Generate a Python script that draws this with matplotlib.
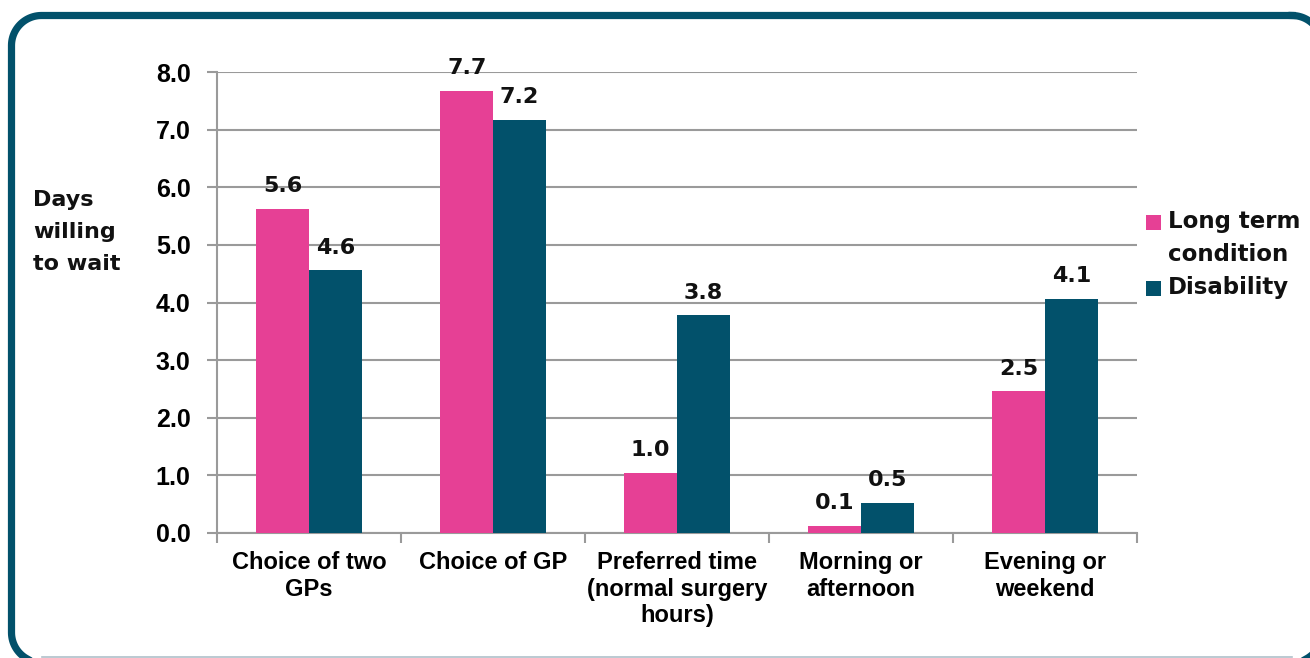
import matplotlib
matplotlib.use("Agg")
import matplotlib.pyplot as plt
import numpy as np
from matplotlib.patches import Rectangle

categories = ["Choice of two\nGPs", "Choice of GP", "Preferred time\n(normal surgery\nhours)",
              "Morning or\nafternoon", "Evening or\nweekend"]
long_term = [5.62, 7.67, 1.04, 0.12, 2.46]
disability = [4.56, 7.17, 3.78, 0.52, 4.06]
series_names = ["Long term\ncondition", "Disability"]
yticks = [0.0, 1.0, 2.0, 3.0, 4.0, 5.0, 6.0, 7.0, 8.0]

PINK = "#E64095"
TEAL = "#02516B"
GRID = "#9A9A9A"

W, H = 1310, 658
fig = plt.figure(figsize=(W / 100, H / 100), dpi=100)
fig.patch.set_facecolor("white")

# background axes in pixel coordinates (y downwards) for frame and legend
bg = fig.add_axes([0, 0, 1, 1], zorder=-5)
bg.set_xlim(0, W)
bg.set_ylim(H, 0)
bg.axis("off")


def rounded_rect(x0, y0, x1, y1, r, n=30):
    xs, ys = [], []
    corners = [(x1 - r, y0 + r, -90, 0), (x1 - r, y1 - r, 0, 90),
               (x0 + r, y1 - r, 90, 180), (x0 + r, y0 + r, 180, 270)]
    for cx, cy, a0, a1 in corners:
        a = np.radians(np.linspace(a0, a1, n))
        xs.extend(cx + r * np.cos(a))
        ys.extend(cy + r * np.sin(a))
    xs.append(xs[0])
    ys.append(ys[0])
    return xs, ys


fx, fy = rounded_rect(11.5, 15.5, 1322, 662.5, 30)
bg.plot(fx, fy, color=TEAL, linewidth=5.2, solid_joinstyle="round")
bg.plot([42, 1292], [656.8, 656.8], color="#AFC0CA", linewidth=1.2)

ax = fig.add_axes([217 / W, (H - 533) / H, (1137 - 217) / W, (533 - 72) / H])
n = len(categories)
centers = np.arange(n) + 0.5
bw = 1 / 3.5
b1 = ax.bar(centers - bw / 2, long_term, bw, color=PINK, zorder=3, linewidth=0)
b2 = ax.bar(centers + bw / 2, disability, bw, color=TEAL, zorder=3, linewidth=0)

for bars, vals in ((b1, long_term), (b2, disability)):
    for rect, v in zip(bars, vals):
        ax.annotate(f"{v:.1f}", (rect.get_x() + rect.get_width() / 2, v),
                    xytext=(0, 12), textcoords="offset points",
                    ha="center", va="baseline", fontsize=16,
                    fontweight="bold", family="DejaVu Sans", color="#111111")

ax.set_xlim(0, n)
ax.set_ylim(0, 8)
ax.set_yticks(yticks)
ax.set_yticklabels([f"{t:.1f}" for t in yticks], fontsize=18, fontweight="bold",
                   family="Liberation Sans")
ax.set_xticks(np.arange(n + 1))
ax.set_xticklabels([])
ax.set_xticks(centers, minor=True)
ax.set_xticklabels(categories, minor=True, fontsize=17, fontweight="bold",
                   family="Liberation Sans", linespacing=1.2)
ax.tick_params(axis="x", which="minor", length=0, pad=13)
ax.tick_params(axis="x", which="major", length=7, width=1.5, color=GRID, direction="out")
ax.tick_params(axis="y", length=7, width=1.5, color=GRID, direction="out", pad=12)

ax.yaxis.grid(True, color=GRID, linewidth=1.5, zorder=0)
ax.set_axisbelow(True)
for s in ("top", "right"):
    ax.spines[s].set_visible(False)
for s in ("left", "bottom"):
    ax.spines[s].set_color(GRID)
    ax.spines[s].set_linewidth(1.5)

fig.text(33 / W, 1 - 232 / H, "Days\nwilling\nto wait", ha="left", va="center",
         fontsize=16, fontweight="bold", family="DejaVu Sans", linespacing=1.72,
         color="#111111")

# legend: marker aligned with the first text line of each entry
legend_rows = [222, 288]
for name, color, yc in zip(series_names, [PINK, TEAL], legend_rows):
    bg.add_patch(Rectangle((1146, yc - 7.5), 15, 15, facecolor=color, edgecolor="none"))
    fig.text(1168 / W, 1 - (yc - 12) / H, name, ha="left", va="top",
             fontsize=16.5, fontweight="bold", family="DejaVu Sans",
             linespacing=1.55, color="#111111")

fig.savefig("out.png", dpi=100)
